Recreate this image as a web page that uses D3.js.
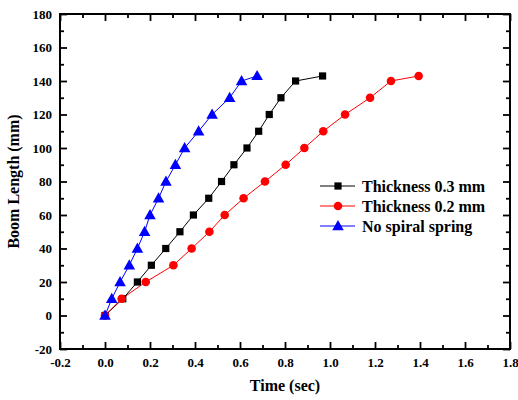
<!DOCTYPE html>
<html>
<head>
<meta charset="utf-8">
<script src="https://cdn.jsdelivr.net/npm/d3@7"></script>
<style>
  html, body { margin: 0; padding: 0; background: #fff; }
  svg { display: block; }
</style>
</head>
<body>
<svg id="chart" width="518" height="400"></svg>
<script>
// Boom length (mm) against deployment time (s) for three spring configurations
const boomLength = [0, 10, 20, 30, 40, 50, 60, 70, 80, 90, 100, 110, 120, 130, 140, 143];

const timeThick03 = [0, 0.079, 0.144, 0.206, 0.270, 0.333, 0.393, 0.461, 0.518, 0.573, 0.631, 0.683, 0.730, 0.782, 0.847, 0.967];
const timeThick02 = [0, 0.074, 0.181, 0.304, 0.385, 0.464, 0.532, 0.616, 0.711, 0.803, 0.886, 0.970, 1.067, 1.178, 1.271, 1.394];
const timeNoSpring = [0, 0.030, 0.067, 0.108, 0.144, 0.176, 0.200, 0.238, 0.271, 0.313, 0.354, 0.416, 0.476, 0.554, 0.607, 0.676];

const seriesNames = ["Thickness 0.3 mm", "Thickness 0.2 mm", "No spiral spring"];
const seriesColors = ["#000000", "#ff0000", "#0000ff"];
const seriesShapes = [d3.symbolSquare, d3.symbolCircle, d3.symbolTriangle];
const seriesSizes = [52, 58, 58];
const seriesTimes = [timeThick03, timeThick02, timeNoSpring];

const xTicks = [-0.2, 0.0, 0.2, 0.4, 0.6, 0.8, 1.0, 1.2, 1.4, 1.6, 1.8];
const yTicks = [-20, 0, 20, 40, 60, 80, 100, 120, 140, 160, 180];
const xTitle = "Time (sec)";
const yTitle = "Boom Length (mm)";

const FONT = "Times New Roman, serif";

const W = 518, H = 400;
const margin = { left: 60, right: 8, top: 14, bottom: 51 };
const innerW = W - margin.left - margin.right;
const innerH = H - margin.top - margin.bottom;

const svg = d3.select("#chart");
const g = svg.append("g").attr("transform", `translate(${margin.left},${margin.top})`);

const x = d3.scaleLinear().domain([-0.2, 1.8]).range([0, innerW]);
const y = d3.scaleLinear().domain([-20, 180]).range([innerH, 0]);

const xMinor = d3.range(-0.1, 1.8, 0.2).map(v => +v.toFixed(2));
const yMinor = d3.range(-10, 180, 20);

// Plain hyphen for negative numbers
const hyphen = f => v => f(v).replace("\u2212", "-");
const fmtX = hyphen(d3.format(".1f"));
const fmtY = hyphen(d3.format("d"));

function serif(sel, size) {
  sel.style("font-family", FONT).style("font-weight", "bold")
     .style("font-size", size + "px").attr("fill", "#000");
}

// Inward ticks on all four sides; labels only on the bottom and left
function styleAxis(sel) {
  sel.select(".domain").remove();
  sel.selectAll("line").attr("stroke", "#000").attr("stroke-width", 1.8);
  sel.selectAll("text").call(serif, 13);
}

g.append("g").attr("transform", `translate(0,${innerH})`)
  .call(d3.axisBottom(x).tickValues(xTicks).tickFormat(fmtX).tickSizeInner(-7).tickPadding(9))
  .call(styleAxis);

g.append("g").attr("transform", `translate(0,${innerH})`)
  .call(d3.axisBottom(x).tickValues(xMinor).tickFormat("").tickSizeInner(-4))
  .call(styleAxis);

g.append("g")
  .call(d3.axisLeft(y).tickValues(yTicks).tickFormat(fmtY).tickSizeInner(-7).tickPadding(8))
  .call(styleAxis);

g.append("g")
  .call(d3.axisLeft(y).tickValues(yMinor).tickFormat("").tickSizeInner(-4))
  .call(styleAxis);

g.append("g")
  .call(d3.axisTop(x).tickValues(xTicks).tickFormat("").tickSizeInner(-7))
  .call(styleAxis);
g.append("g")
  .call(d3.axisTop(x).tickValues(xMinor).tickFormat("").tickSizeInner(-4))
  .call(styleAxis);

g.append("g").attr("transform", `translate(${innerW},0)`)
  .call(d3.axisRight(y).tickValues(yTicks).tickFormat("").tickSizeInner(-7))
  .call(styleAxis);
g.append("g").attr("transform", `translate(${innerW},0)`)
  .call(d3.axisRight(y).tickValues(yMinor).tickFormat("").tickSizeInner(-4))
  .call(styleAxis);

// Plot frame
g.append("rect")
  .attr("x", 0).attr("y", 0).attr("width", innerW).attr("height", innerH)
  .attr("fill", "none").attr("stroke", "#000").attr("stroke-width", 2);

// Series lines and markers
const line = d3.line().x(d => x(d[0])).y(d => y(d[1]));

seriesTimes.forEach((times, i) => {
  const pts = times.map((t, k) => [t, boomLength[k]]);
  g.append("path")
    .attr("d", line(pts))
    .attr("fill", "none")
    .attr("stroke", seriesColors[i])
    .attr("stroke-width", 1);
});

seriesTimes.forEach((times, i) => {
  const pts = times.map((t, k) => [t, boomLength[k]]);
  const sym = d3.symbol().type(seriesShapes[i]).size(seriesSizes[i]);
  g.append("g").selectAll("path")
    .data(pts)
    .join("path")
    .attr("d", sym)
    .attr("transform", d => `translate(${x(d[0])},${y(d[1]) + (seriesShapes[i] === d3.symbolTriangle ? 0.8 : 0)})`)
    .attr("fill", seriesColors[i]);
});

// Legend
const legend = svg.append("g").attr("transform", "translate(320,186)");
seriesNames.forEach((name, i) => {
  const row = legend.append("g").attr("transform", `translate(0,${i * 20})`);
  row.append("line").attr("x1", 0).attr("x2", 35).attr("y1", 0).attr("y2", 0)
    .attr("stroke", seriesColors[i]).attr("stroke-width", 1);
  row.append("path")
    .attr("d", d3.symbol().type(seriesShapes[i]).size(seriesSizes[i])())
    .attr("transform", `translate(18,${seriesShapes[i] === d3.symbolTriangle ? 0.8 : 0})`)
    .attr("fill", seriesColors[i]);
  row.append("text")
    .attr("x", 42).attr("y", 0).attr("dy", "0.35em")
    .call(serif, 16)
    .text(name);
});

// Axis titles
svg.append("text")
  .attr("x", margin.left + x(0.8)).attr("y", 391)
  .attr("text-anchor", "middle").call(serif, 16)
  .text(xTitle);

svg.append("text")
  .attr("transform", `translate(19,${margin.top + innerH / 2}) rotate(-90)`)
  .attr("text-anchor", "middle").call(serif, 16)
  .text(yTitle);
</script>
</body>
</html>
